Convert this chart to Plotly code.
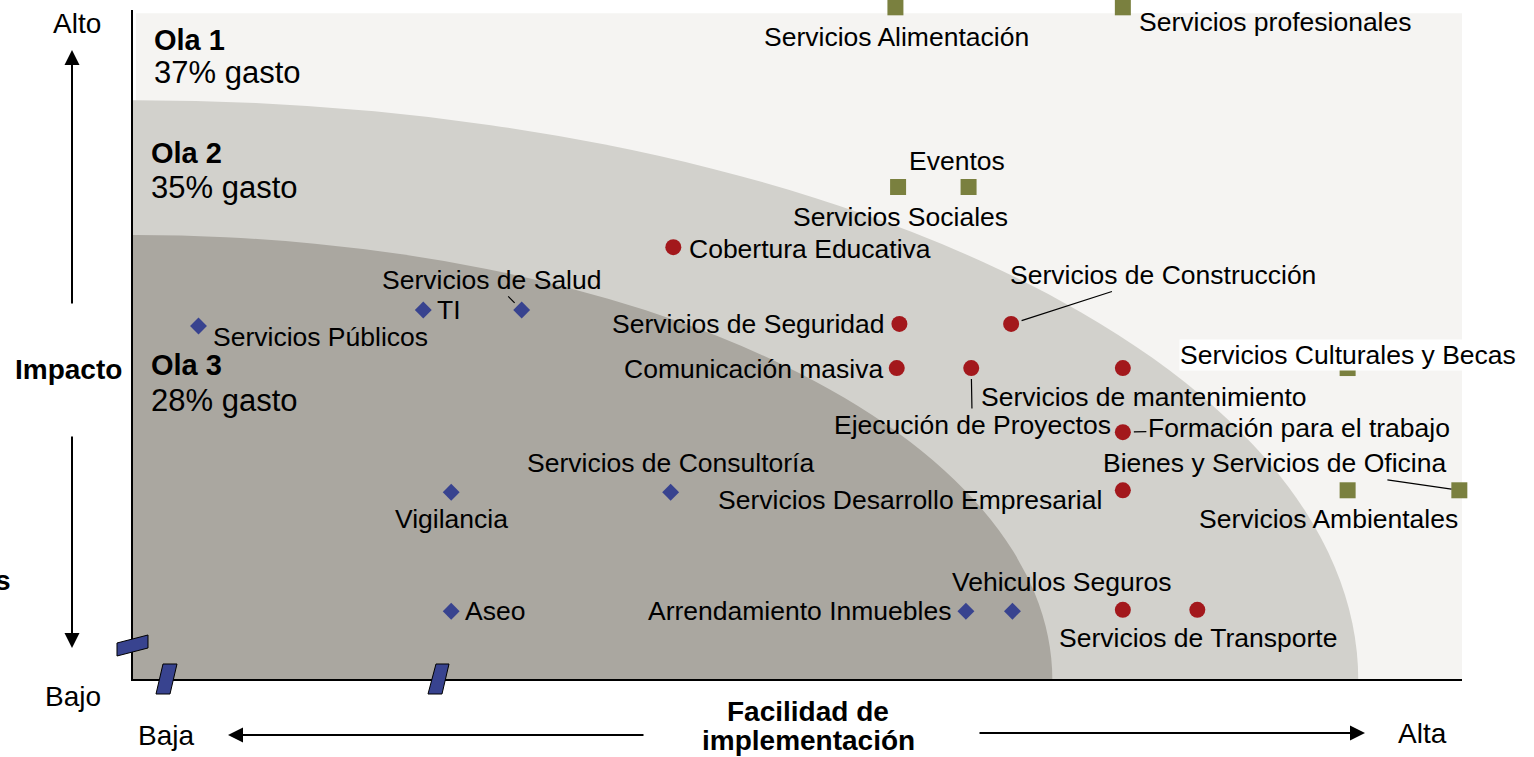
import plotly.graph_objects as go

# escala 0-10 en ambos ejes: facilidad de implementacion (x) e impacto (y)
ola_names = ["Ola 1", "Ola 2", "Ola 3"]
ola_gasto = [37, 35, 28]
ola_facilidad = [10.0, 9.22, 6.92]   # alcance de cada ola sobre el eje x
ola_impacto = [9.98, 8.68, 6.66]     # alcance de cada ola sobre el eje y
ola_colors = ["#F5F4F2", "#D2D1CC", "#AAA7A0"]

ola3_names = ["Servicios Públicos", "TI", "Servicios de Salud", "Vigilancia",
              "Servicios de Consultoría", "Aseo", "Arrendamiento Inmuebles",
              "Vehiculos Seguros"]
ola3_x = [0.50, 2.19, 2.93, 2.40, 4.05, 2.40, 6.27, 6.62]
ola3_y = [5.30, 5.54, 5.54, 2.81, 2.81, 1.03, 1.03, 1.03]

ola2_names = ["Cobertura Educativa", "Servicios de Seguridad", "Servicios de Construcción",
              "Comunicación masiva", "Ejecución de Proyectos", "Servicios de mantenimiento",
              "Formación para el trabajo", "Servicios Desarrollo Empresarial",
              "Servicios de Transporte", "Servicios de Transporte"]
ola2_x = [4.07, 5.77, 6.61, 5.75, 6.31, 7.45, 7.45, 7.45, 7.45, 8.01]
ola2_y = [6.48, 5.33, 5.33, 4.67, 4.67, 4.67, 3.71, 2.84, 1.05, 1.05]

ola1_names = ["Servicios Alimentación", "Servicios profesionales", "Servicios Sociales",
              "Eventos", "Servicios Culturales y Becas", "Servicios Ambientales",
              "Bienes y Servicios de Oficina"]
ola1_x = [5.74, 7.45, 5.76, 6.29, 9.14, 9.14, 9.98]
ola1_y = [10.07, 10.07, 7.38, 7.38, 4.67, 2.84, 2.84]

# posicion de las etiquetas (px respecto al punto): dx, dy, anclaje, conector
ola3_lbl = [(13, 11, "left", 0), (13, 0, "left", 0), (-30, -30, "center", 10),
            (0, 27, "center", 0), (0, -29, "center", 0), (13, 0, "left", 0),
            (-14, 0, "right", 0), (50, -29, "center", 0)]
ola2_lbl = [(15, 2, "left", 0), (-13, 0, "right", 0), (152, -49, "center", 11),
            (-13, 1, "right", 0), (1, 57, "center", 11), (-143, 29, "left", 0),
            (176, -4, "center", 11), (-20, 10, "right", 0), None, (1, 28, "center", 0)]
ola1_lbl = [(1, 30, "center", 0), (15, 15, "left", 0), (2, 30, "center", 0),
            (-12, -26, "center", 0), (0, -13, "center", 0), (-19, 29, "center", 0),
            (-185, -27, "center", 8)]

FONT = "Liberation Sans, Arial, sans-serif"
LBL = 26.5
W, H = 1534, 757
L, R, T, B = 132, 72, 0, 77
Y_TOP = 10 + 12 / 66.8   # el area de la grafica empieza 12 px por encima de y=10


def px(x):
    return (x - L) / (W - L - R)


def py(y):
    return (H - B - y) / (H - T - B)


fig = go.Figure()

# fondos de las olas
fig.add_shape(type="rect", x0=0.03, x1=ola_facilidad[0], y0=0, y1=ola_impacto[0],
              fillcolor=ola_colors[0], line_width=0, layer="below")
for i in (1, 2):
    a = ola_facilidad[i] - 0.03
    b = ola_impacto[i]
    fig.add_shape(type="circle", x0=0.03 - a, x1=0.03 + a, y0=-b, y1=b,
                  fillcolor=ola_colors[i], line_width=0, layer="below")

series = [
    (ola3_names, ola3_x, ola3_y, ola3_lbl, "diamond", 13, "#38438F"),
    (ola2_names, ola2_x, ola2_y, ola2_lbl, "circle", 16, "#A3181C"),
    (ola1_names, ola1_x, ola1_y, ola1_lbl, "square", 16, "#7A803F"),
]

for names, xs, ys, lbls, sym, size, color in series:
    fig.add_trace(go.Scatter(
        x=xs, y=ys, mode="markers", text=names, cliponaxis=False,
        marker=dict(symbol=sym, size=size, color=color, line_width=0),
        hovertemplate="%{text}<extra></extra>", showlegend=False))
    for n, x, y, lb in zip(names, xs, ys, lbls):
        if lb is None:
            continue
        dx, dy, anchor, stand = lb
        bg = "white" if n == "Servicios Culturales y Becas" else None
        if stand:
            fig.add_annotation(x=x, y=y, text=n, showarrow=True, ax=dx, ay=dy,
                               arrowhead=0, arrowwidth=1.2, arrowcolor="black",
                               standoff=stand, font=dict(family=FONT, size=LBL, color="black"))
        else:
            fig.add_annotation(x=x, y=y, text=n, showarrow=False, xshift=dx, yshift=-dy,
                               xanchor=anchor, yanchor="middle", bgcolor=bg, borderpad=0,
                               font=dict(family=FONT, size=LBL, color="black"))

# etiquetas de las olas
ola_lbl_pos = [(152, 40, 73), (149, 153, 187), (149, 365, 400)]
for n, g, (lx, ly1, ly2) in zip(ola_names, ola_gasto, ola_lbl_pos):
    fig.add_annotation(xref="paper", yref="paper", x=px(lx), y=py(ly1),
                       text=f"<b>{n}</b>", showarrow=False,
                       xanchor="left", yanchor="middle",
                       font=dict(family=FONT, size=29, color="black"))
    fig.add_annotation(xref="paper", yref="paper", x=px(lx), y=py(ly2),
                       text=f"{g}% gasto", showarrow=False,
                       xanchor="left", yanchor="middle",
                       font=dict(family=FONT, size=31, color="black"))

# textos de los ejes
axis_txt = [("Alto", 77, 24, False), ("Bajo", 73, 697, False), ("Impacto", 68, 369, True),
            ("Baja", 166, 735, False), ("Alta", 1422, 733, False),
            ("Facilidad de", 808, 711, True), ("implementación", 808, 741, True)]
for t, lx, ly, bold in axis_txt:
    fig.add_annotation(xref="paper", yref="paper", x=px(lx), y=py(ly),
                       text=f"<b>{t}</b>" if bold else t, showarrow=False,
                       xanchor="center", yanchor="middle",
                       font=dict(family=FONT, size=28, color="black"))
fig.add_annotation(xref="paper", yref="paper", x=px(13), y=py(580), text="<b>s</b>",
                   showarrow=False, xanchor="right", yanchor="middle",
                   font=dict(family=FONT, size=28, color="black"))

# flechas
arrows = [(72, 50, 0, 255), (72, 648, 0, -213), (228, 735, 417, 0), (1365, 733, -387, 0)]
for tx, ty, ax, ay in arrows:
    fig.add_annotation(xref="paper", yref="paper", x=px(tx), y=py(ty), text="",
                       showarrow=True, ax=ax, ay=ay, arrowhead=2, arrowsize=1.5,
                       arrowwidth=2, arrowcolor="black")

# ejes dibujados como lineas
fig.add_shape(type="line", xref="paper", yref="paper", x0=px(132), x1=px(132),
              y0=py(681), y1=py(10), line=dict(color="black", width=2), layer="above")
fig.add_shape(type="line", xref="paper", yref="paper", x0=px(131), x1=px(1462),
              y0=py(680), y1=py(680), line=dict(color="black", width=2), layer="above")

# marcas de corte del eje
cuts = [[(117, 643), (148, 635), (148, 648), (117, 656)],
        [(163, 664), (177, 664), (170, 694), (156, 694)],
        [(436, 664), (449, 664), (442, 694), (428, 694)]]
for pts in cuts:
    path = "M " + " L ".join(f"{px(a):.5f},{py(b):.5f}" for a, b in pts) + " Z"
    fig.add_shape(type="path", xref="paper", yref="paper", path=path,
                  fillcolor="#38438F", line=dict(color="black", width=1), layer="above")

fig.update_xaxes(range=[0, 10], showgrid=False, zeroline=False, showticklabels=False,
                 ticks="", showline=False)
fig.update_yaxes(range=[0, Y_TOP], showgrid=False, zeroline=False, showticklabels=False,
                 ticks="", showline=False)

fig.update_layout(width=W, height=H, autosize=False,
                  margin=dict(l=L, r=R, t=T, b=B),
                  plot_bgcolor="white", paper_bgcolor="white",
                  font=dict(family=FONT, color="black"))

fig.write_html("out.html", config={"displayModeBar": False},
               post_script="document.body.style.margin='0';")
